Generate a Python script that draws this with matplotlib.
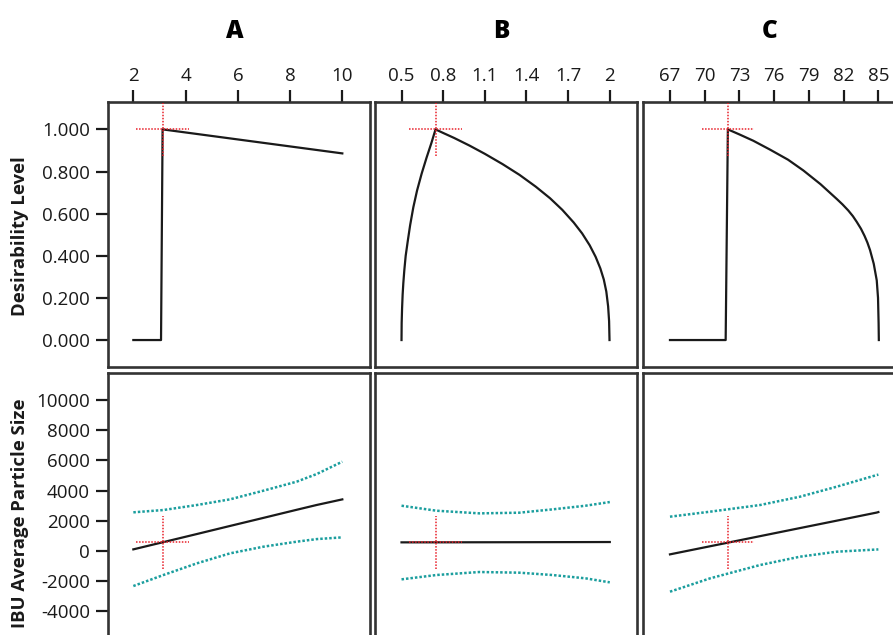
import matplotlib
matplotlib.use("Agg")
import matplotlib.pyplot as plt

plt.rcParams['font.family'] = ['Open Sans', 'DejaVu Sans']

# ---------------- data ----------------
factors = ["A", "B", "C"]
xticks_A = [2, 4, 6, 8, 10]
xticks_B = [0.5, 0.8, 1.1, 1.4, 1.7, 2]
xticks_B_labels = ["0.5", "0.8", "1.1", "1.4", "1.7", "2"]
xticks_C = [67, 70, 73, 76, 79, 82, 85]
des_yticks = [0.0, 0.2, 0.4, 0.6, 0.8, 1.0]
ibu_yticks = [-4000, -2000, 0, 2000, 4000, 6000, 8000, 10000]

# current (crosshair) settings
current_x = {"A": 3.12, "B": 0.745, "C": 72.0}
current_des = 1.0
current_ibu = 570

# desirability traces
desA_x = [2.0, 3.06, 3.12, 10.0]
desA_y = [0.0, 0.0, 1.0, 0.886]

desB_x = [0.5, 0.501, 0.504, 0.508, 0.513, 0.520, 0.530, 0.545, 0.562, 0.585, 0.612, 0.645,
          0.680, 0.715, 0.745, 0.800, 0.880, 0.990, 1.100, 1.228, 1.350, 1.467, 1.570, 1.658,
          1.740, 1.801, 1.855, 1.898, 1.932, 1.957, 1.975, 1.988, 1.995, 1.998]
desB_y = [0.0, 0.080, 0.150, 0.215, 0.270, 0.330, 0.400, 0.470, 0.545, 0.630, 0.710, 0.790,
          0.865, 0.935, 1.0, 0.983, 0.959, 0.923, 0.884, 0.835, 0.784, 0.728, 0.673, 0.618,
          0.558, 0.506, 0.450, 0.395, 0.340, 0.287, 0.230, 0.160, 0.090, 0.0]

desC_x = [67.0, 71.81, 72.0, 72.5, 73.0, 74.2, 75.64, 77.2, 78.52, 80.0, 81.4, 81.9, 82.4,
          82.8, 83.13, 83.5, 83.8, 84.05, 84.28, 84.6, 84.86, 84.97, 85.02, 85.04]
desC_y = [0.0, 0.0, 1.0, 0.988, 0.976, 0.946, 0.904, 0.856, 0.805, 0.740, 0.670, 0.644, 0.615,
          0.588, 0.561, 0.528, 0.495, 0.463, 0.427, 0.362, 0.283, 0.200, 0.080, 0.0]

# IBU predictions and interval bounds
ibuA_x = [2.0, 3.15, 4.43, 5.70, 6.98, 8.25, 9.02, 10.0]
ibuA_pred = [110, 590, 1125, 1660, 2195, 2730, 3050, 3420]
ibuA_up = [2563, 2715, 3046, 3422, 3996, 4592, 5099, 5916]
ibuA_lo = [-2318, -1589, -817, -155, 287, 618, 790, 905]

ibuB_x = [0.5, 0.751, 1.061, 1.348, 1.587, 1.826, 2.0]
ibuB_pred = [574, 576, 580, 584, 588, 592, 596]
ibuB_up = [3001, 2670, 2494, 2538, 2758, 3001, 3244]
ibuB_lo = [-1876, -1589, -1390, -1434, -1589, -1810, -2074]

ibuC_x = [67.0, 70.46, 74.78, 78.23, 81.40, 84.86, 85.0]
ibuC_pred = [-221, 315, 985, 1520, 2010, 2548, 2580]
ibuC_up = [2274, 2605, 3046, 3598, 4260, 5033, 5060]
ibuC_lo = [-2693, -1810, -927, -375, -44, 100, 110]

# ---------------- layout ----------------
W, H = 893, 635
fig = plt.figure(figsize=(W / 100, H / 100), dpi=100)

col_left = [108, 375, 643]
col_w = 262
row_top = [102, 373]
row_h = 265
xlims = {"A": (1.03, 11.06), "B": (0.309, 2.196), "C": (64.67, 87.3)}
des_ylim = (-0.128, 1.13)
ibu_ylim = (-5760, 11790)

black = "#1a1a1a"
teal = "#1b9e9e"
red = "#e8202a"
frame = "#333333"


def make_ax(ci, ri):
    l = col_left[ci] / W
    b = 1 - (row_top[ri] + row_h) / H
    ax = fig.add_axes([l, b, col_w / W, row_h / H])
    for s in ax.spines.values():
        s.set_linewidth(1.9)
        s.set_color(frame)
    ax.tick_params(length=9, width=1.6, color=black, labelsize=13.5, labelcolor=black)
    return ax


def crosshair(ax, x, y):
    to_ax = ax.transData + ax.transAxes.inverted()
    ux, uy = to_ax.transform((x, y))
    ax.plot([ux - 0.1, ux + 0.1], [uy, uy], transform=ax.transAxes, color=red,
            lw=1.1, ls=(0, (1, 1)), zorder=5, clip_on=True)
    ax.plot([ux, ux], [uy - 0.1, uy + 0.1], transform=ax.transAxes, color=red,
            lw=1.1, ls=(0, (1, 1)), zorder=5, clip_on=True)


des_data = {"A": (desA_x, desA_y), "B": (desB_x, desB_y), "C": (desC_x, desC_y)}
ibu_data = {"A": (ibuA_x, ibuA_pred, ibuA_up, ibuA_lo),
            "B": (ibuB_x, ibuB_pred, ibuB_up, ibuB_lo),
            "C": (ibuC_x, ibuC_pred, ibuC_up, ibuC_lo)}
xtick_map = {"A": (xticks_A, [str(t) for t in xticks_A]),
             "B": (xticks_B, xticks_B_labels),
             "C": (xticks_C, [str(t) for t in xticks_C])}

for ci, f in enumerate(factors):
    # desirability row
    ax = make_ax(ci, 0)
    x, y = des_data[f]
    ax.set_xlim(*xlims[f])
    ax.set_ylim(*des_ylim)
    ax.plot(x, y, color=black, lw=1.6, zorder=4)
    crosshair(ax, current_x[f], current_des)
    ax.xaxis.tick_top()
    ax.set_xticks(xtick_map[f][0])
    ax.set_xticklabels(xtick_map[f][1])
    ax.tick_params(axis='x', pad=3)
    if ci == 0:
        ax.set_yticks(des_yticks)
        ax.set_yticklabels([f"{v:.3f}" for v in des_yticks])
        ax.tick_params(axis='y', pad=4)
    else:
        ax.set_yticks([])

    # IBU row
    ax2 = make_ax(ci, 1)
    xs, pr, up, lo = ibu_data[f]
    ax2.set_xlim(*xlims[f])
    ax2.set_ylim(*ibu_ylim)
    ax2.plot(xs, up, color=teal, lw=1.8, ls=(0, (1, 0.8)), zorder=2)
    ax2.plot(xs, lo, color=teal, lw=1.8, ls=(0, (1, 0.8)), zorder=2)
    ax2.plot(xs, pr, color=black, lw=1.6, zorder=4)
    crosshair(ax2, current_x[f], current_ibu)
    ax2.set_xticks([])
    if ci == 0:
        ax2.set_yticks(ibu_yticks)
        ax2.set_yticklabels([str(v) for v in ibu_yticks])
        ax2.tick_params(axis='y', pad=4)
    else:
        ax2.set_yticks([])

    # factor titles
    cx = (col_left[ci] + col_w / 2) / W
    fig.text(cx - 0.005, 1 - 31 / H, f, ha='center', va='center',
             fontsize=17.5, fontweight='heavy', color="#000000")

fig.text(20 / W, 1 - 236 / H, "Desirability Level", rotation=90, ha='center',
         va='center', fontsize=13.3, fontweight='bold', color=black)
fig.text(20 / W, 1 - 398 / H, "IBU Average Particle Size", rotation=90, ha='center',
         va='top', fontsize=13.3, fontweight='bold', color=black)

fig.savefig("out.png", dpi=100)
